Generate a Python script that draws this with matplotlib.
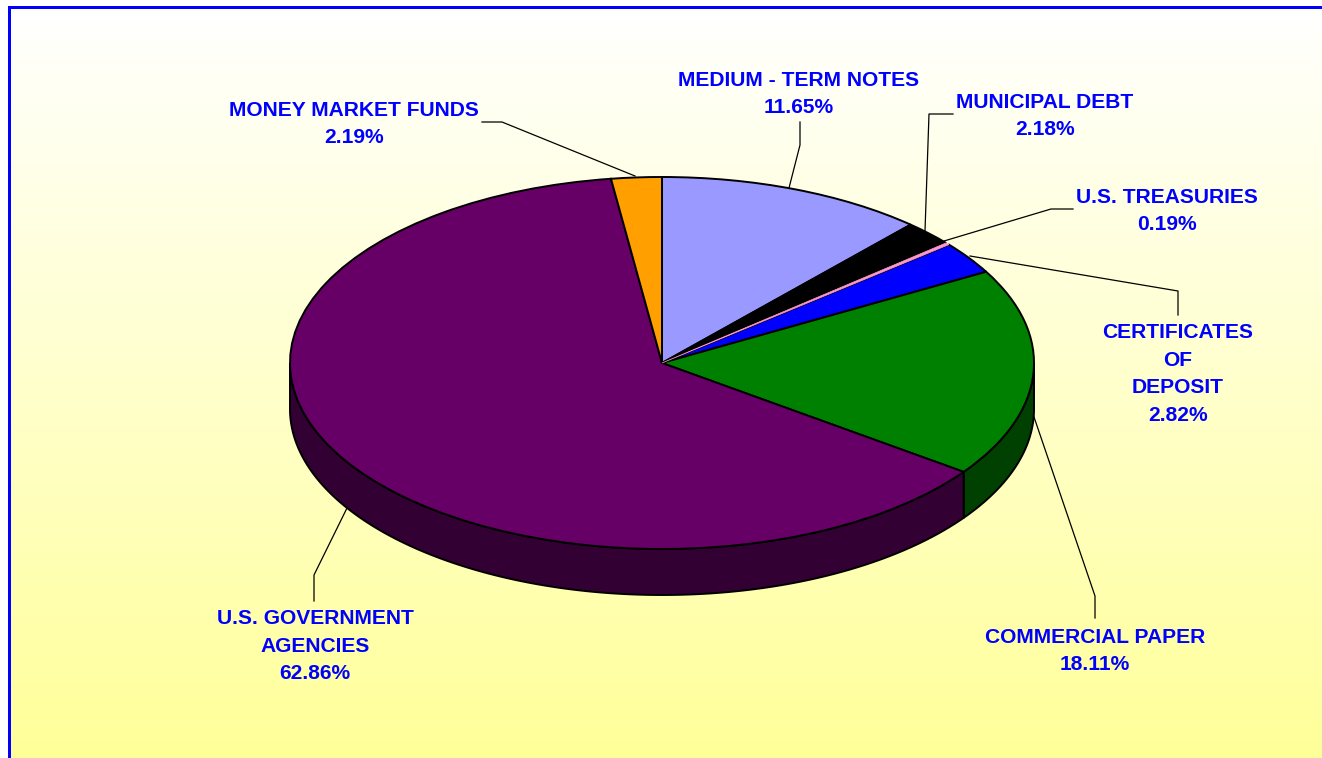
import numpy as np
import matplotlib
matplotlib.use('Agg')
import matplotlib.pyplot as plt

plt.rcParams['font.family'] = ['Liberation Sans', 'DejaVu Sans']

W, H = 1322, 758

# clockwise from 12 o'clock
names = ['MEDIUM - TERM NOTES', 'MUNICIPAL DEBT', 'U.S. TREASURIES',
         'CERTIFICATES\nOF\nDEPOSIT', 'COMMERCIAL PAPER',
         'U.S. GOVERNMENT\nAGENCIES', 'MONEY MARKET FUNDS']
values = [11.65, 2.18, 0.19, 2.82, 18.11, 62.86, 2.19]
colors = ['#9999FF', '#000000', '#FF99CC', '#0000FF', '#008000', '#660066', '#FF9F00']
dark_colors = ['#4D4D80', '#000000', '#804D66', '#000080', '#004000', '#330033', '#805000']

# label centres and leader lines, in pixels
label_xy = [(799, 94), (1045, 116), (1167, 211), (1178, 374), (1095, 651), (315, 646), (354, 124)]
leaders = [[(800, 122), (800, 145), (789, 188)],
           [(953, 114), (929, 114), (925, 231)],
           [(1073, 209), (1051, 209), (944, 241)],
           [(1178, 315), (1178, 291), (970, 256)],
           [(1095, 618), (1095, 596), (1034, 417)],
           [(314, 601), (314, 575), (348, 506)],
           [(482, 122), (502, 122), (635, 176)]]

cx, cy, rx, ry, depth = 662, 363, 372, 186, 46

fig = plt.figure(figsize=(W / 100, H / 100), dpi=100)

# background, border and leader lines live in pixel coords
bg = fig.add_axes([0, 0, 1, 1])
bg.set_xlim(0, W)
bg.set_ylim(H, 0)
bg.axis('off')
grad = np.linspace(255, 153, 256)[:, None]
img = np.dstack([np.full_like(grad, 255), np.full_like(grad, 255), grad]).astype(np.uint8)
bg.imshow(img, extent=(11, W, H, 9), aspect='auto', zorder=0)
bg.set_xlim(0, W)
bg.set_ylim(H, 0)
bg.fill_between([8, W], 6, 9, color='#0000FF', lw=0, zorder=1)
bg.fill_between([8, 11], 6, H, color='#0000FF', lw=0, zorder=1)

for pts in leaders:
    xs, ys = zip(*pts)
    bg.plot(xs, ys, color='#000000', lw=0.9, zorder=2)

# pie axes: unit circle squashed to the ellipse
ax = fig.add_axes([0, 0, 1, 1])
ax.patch.set_alpha(0)

# side wall first
d = depth / ry
start = 90.0
for val, dk in zip(values, dark_colors):
    end = start - val * 3.6
    lo, hi = min(start, end), max(start, end)
    # visible part is the front half, -180..0
    lo2, hi2 = max(lo, -180), min(hi, 0)
    if hi2 > lo2:
        t = np.radians(np.linspace(lo2, hi2, 200))
        xs = np.r_[np.cos(t), np.cos(t[::-1])]
        ys = np.r_[np.sin(t), np.sin(t[::-1]) - d]
        ax.fill(xs, ys, facecolor=dk, edgecolor='black', lw=1.4, zorder=1)
    start = end

wedges, _ = ax.pie(values, colors=colors, startangle=90, counterclock=False, radius=1,
                   wedgeprops={'edgecolor': 'black', 'linewidth': 1.4, 'zorder': 2})
# the thin treasuries slice would vanish under a black edge
wedges[2].set_edgecolor('#FF99CC')
wedges[2].set_linewidth(0.5)
wedges[2].set_zorder(3)
ax.set_aspect('auto')
ax.set_xlim(-cx / rx, (W - cx) / rx)
ax.set_ylim((cy - H) / ry, cy / ry)
ax.axis('off')

for name, val, (x, y) in zip(names, values, label_xy):
    bg.text(x, y, f'{name}\n{val:.2f}%', color='#0000FF', fontsize=15.1, fontweight='bold',
            ha='center', va='center', linespacing=1.56, zorder=5)

fig.savefig('out.png', dpi=100)
